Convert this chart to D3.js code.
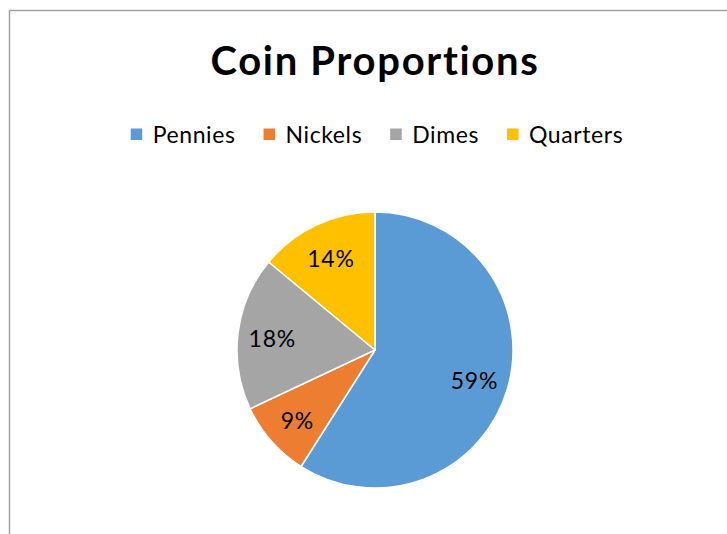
<!DOCTYPE html>
<html>
<head>
<meta charset="utf-8">
<script src="https://cdn.jsdelivr.net/npm/d3@7"></script>
<style>
  html, body { margin: 0; padding: 0; background: #fff; }
  svg { display: block; }
  text { font-family: Lato, "Open Sans", sans-serif; fill: #000; }
</style>
</head>
<body>
<svg id="chart" width="727" height="534"></svg>
<script>
// Coin mix, in percent of all coins
const categories = ["Pennies", "Nickels", "Dimes", "Quarters"];
const shares = [59, 9, 18, 14];
const colors = ["#5b9bd5", "#ed7d31", "#a5a5a5", "#ffc000"];
const chartTitle = "Coin Proportions";

const width = 727, height = 534;
const svg = d3.select("#chart");

// chart frame (runs past the right and bottom edges)
svg.append("rect")
  .attr("x", 9.5).attr("y", 10.5)
  .attr("width", 740).attr("height", 560)
  .attr("fill", "#fff")
  .attr("stroke", "#9d9d9d")
  .attr("stroke-width", 1.4);

// title
svg.append("text")
  .attr("x", 375).attr("y", 74.5)
  .attr("text-anchor", "middle")
  .style("font-size", "40px")
  .style("font-weight", "700")
  .style("letter-spacing", "1.7px")
  .text(chartTitle);

// legend
const color = d3.scaleOrdinal().domain(categories).range(colors);
const legend = svg.append("g");
const items = legend.selectAll("g").data(categories).join("g");
items.append("rect")
  .attr("y", 128.5).attr("width", 11.5).attr("height", 11.5)
  .attr("fill", d => color(d));
items.append("text")
  .attr("x", 22).attr("y", 142.5)
  .style("font-size", "23px")
  .style("letter-spacing", "0.6px")
  .text(d => d);
let xPos = 0;
items.each(function () {
  const g = d3.select(this);
  g.attr("transform", `translate(${xPos},0)`);
  xPos += 22 + g.select("text").node().getComputedTextLength() + 28;
});
const legendWidth = xPos - 28;
legend.attr("transform", `translate(${377 - legendWidth / 2},0)`);

// pie
const cx = 375, cy = 350, radius = 138;
const pie = d3.pie().sort(null).value(d => d.value);
const arcs = pie(categories.map((c, i) => ({ name: c, value: shares[i] })));
const arc = d3.arc().innerRadius(0).outerRadius(radius);
const labelArc = d3.arc().innerRadius(radius * 0.75).outerRadius(radius * 0.75);

const pieG = svg.append("g").attr("transform", `translate(${cx},${cy})`);
pieG.selectAll("path").data(arcs).join("path")
  .attr("d", arc)
  .attr("fill", d => color(d.data.name))
  .attr("stroke", "#fff")
  .attr("stroke-width", 1.5)
  .attr("stroke-linejoin", "round");

pieG.selectAll("text.lbl").data(arcs).join("text")
  .attr("class", "lbl")
  .attr("transform", d => `translate(${labelArc.centroid(d)})`)
  .attr("text-anchor", "middle")
  .attr("dy", "0.45em")
  .style("font-size", "23px")
  .style("letter-spacing", "0.8px")
  .text(d => d3.format(".0%")(d.data.value / 100));
</script>
</body>
</html>
